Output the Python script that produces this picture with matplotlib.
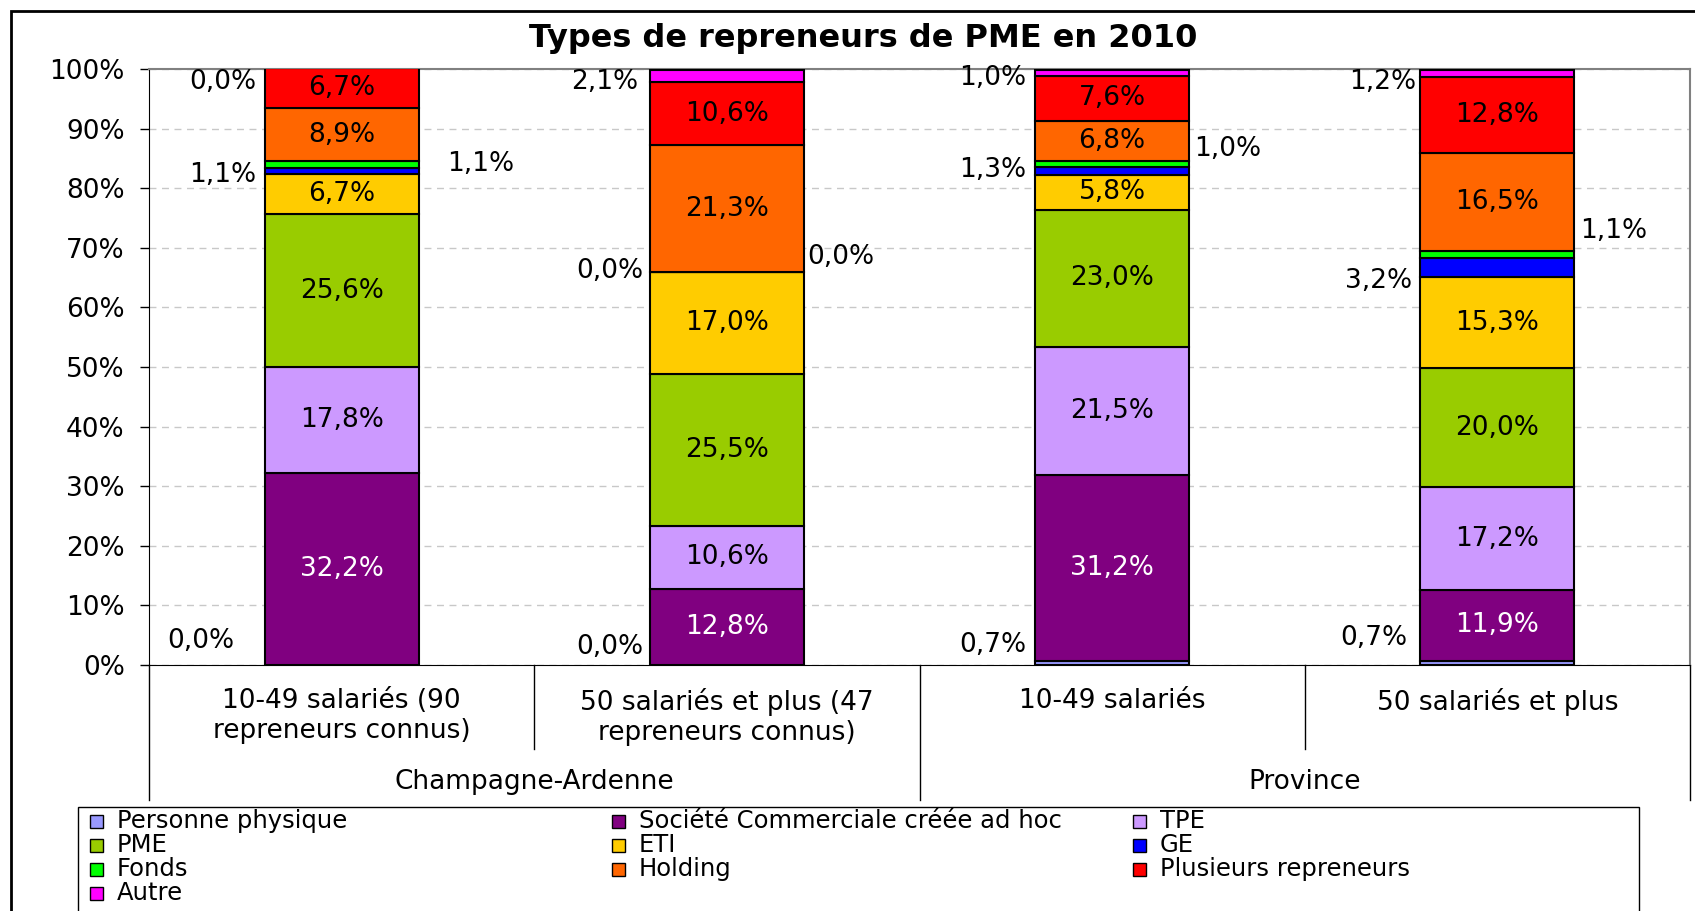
import numpy as np
import matplotlib.pyplot as plt
from matplotlib.patches import Rectangle

plt.rcParams['font.family'] = ['DejaVu Sans']

# ── Data ────────────────────────────────────────────────────────────────── #
CATEGORIES = ["10-49 salariés (90\nrepreneurs connus)",
              "50 salariés et plus (47\nrepreneurs connus)",
              "10-49 salariés",
              "50 salariés et plus"]
GROUPS = ["Champagne-Ardenne", "Province"]

SERIES = ["Personne physique", "Société Commerciale créée ad hoc", "TPE",
          "PME", "ETI", "GE", "Fonds", "Holding", "Plusieurs repreneurs", "Autre"]
COLORS = ["#9999FF", "#800080", "#CC99FF", "#99CC00", "#FFCC00",
          "#0000FF", "#00FF00", "#FF6600", "#FF0000", "#FF00FF"]

personne_physique = [0.0, 0.0, 0.7, 0.7]
societe_commerciale = [32.2, 12.8, 31.2, 11.9]
tpe = [17.8, 10.6, 21.5, 17.2]
pme = [25.6, 25.5, 23.0, 20.0]
eti = [6.7, 17.0, 5.8, 15.3]
ge = [1.1, 0.0, 1.3, 3.2]
fonds = [1.1, 0.0, 1.0, 1.1]
holding = [8.9, 21.3, 6.8, 16.5]
plusieurs = [6.7, 10.6, 7.6, 12.8]
autre = [0.0, 2.1, 1.0, 1.2]

VALUES = [personne_physique, societe_commerciale, tpe, pme, eti,
          ge, fonds, holding, plusieurs, autre]

# small segments get their label outside the bar: (series, category) -> (dx, y)
OUTSIDE = {
    (0, 0): (-0.278, 4.0), (9, 0): (-0.222, 97.8), (5, 0): (-0.222, 82.2), (6, 0): (0.275, 84.0),
    (0, 1): (-0.216, 3.1), (9, 1): (-0.230, 97.8), (5, 1): (-0.216, 66.1), (6, 1): (0.208, 68.4),
    (0, 2): (-0.222, 3.4), (9, 2): (-0.222, 98.5), (5, 2): (-0.222, 83.1), (6, 2): (0.213, 86.6),
    (0, 3): (-0.233, 4.5), (9, 3): (-0.210, 97.8), (5, 3): (-0.222, 64.4), (6, 3): (0.216, 72.8),
}

W, H = 1695, 911
FS = 19


def fmt(v):
    return f"{v:.1f}%".replace(".", ",")


fig = plt.figure(figsize=(W / 100, H / 100), dpi=100)
ax = fig.add_axes([149 / W, 1 - 665 / H, (1690 - 149) / W, (665 - 69) / H])

x = np.arange(len(CATEGORIES))
bottom = np.zeros(len(CATEGORIES))
for i, (name, vals, col) in enumerate(zip(SERIES, VALUES, COLORS)):
    vals = np.array(vals)
    ax.bar(x, vals, 0.40, bottom=bottom, color=col, edgecolor="black",
           linewidth=1.5, label=name, zorder=3)
    for j, v in enumerate(vals):
        if (i, j) in OUTSIDE:
            dx, y = OUTSIDE[(i, j)]
            ax.text(j + dx, y, fmt(v), ha="right" if dx < 0 else "left",
                    va="center", fontsize=FS, color="black")
        else:
            ax.text(j, bottom[j] + v / 2, fmt(v), ha="center", va="center",
                    fontsize=FS, color="white" if i == 1 else "black", zorder=4)
    bottom += vals

ax.set_xlim(-0.5, 3.5)
ax.set_ylim(0, 100)
ax.set_yticks(np.arange(0, 101, 10))
ax.set_yticklabels([f"{t}%" for t in range(0, 101, 10)], fontsize=FS)
ax.tick_params(axis="y", length=6.5, width=1, pad=11)
ax.set_xticks([])
ax.yaxis.grid(True, linestyle=(0, (5, 4)), color="#c8c8c8", linewidth=1)
ax.set_axisbelow(True)
for s in ["top", "right"]:
    ax.spines[s].set_color("#808080")
    ax.spines[s].set_linewidth(1.5)

# hierarchical category axis
tr = ax.get_xaxis_transform()
for xs, y1 in [(-0.5, -0.2265), (0.5, -0.141), (1.5, -0.2265), (2.5, -0.141), (3.5, -0.2265)]:
    ax.plot([xs, xs], [0, y1], color="black", lw=1, transform=tr, clip_on=False)
for j, lab in enumerate(CATEGORIES):
    ax.text(j, -0.038, lab, transform=tr, ha="center", va="top",
            fontsize=FS, linespacing=1.2)
for g, lab in enumerate(GROUPS):
    ax.text(0.5 + 2 * g, -0.196, lab, transform=tr, ha="center", va="center", fontsize=FS)

fig.text(863 / W, 1 - 39 / H, "Types de repreneurs de PME en 2010",
         ha="center", va="center", fontsize=23, fontweight="bold")

# outer frame and legend box
fig.add_artist(Rectangle((11 / W, -0.1), 2, 1 - 11 / H + 0.1, fill=False,
                         edgecolor="black", lw=2, transform=fig.transFigure))
fig.add_artist(Rectangle((78 / W, -0.1), (1639 - 78) / W, 1 - 807 / H + 0.1, fill=False,
                         edgecolor="black", lw=1, transform=fig.transFigure))

# legend, row-major in 3 columns
col_x = [90, 612, 1133]
row_y = [821, 845, 869, 893]
for k, (name, col) in enumerate(zip(SERIES, COLORS)):
    r, c = divmod(k, 3)
    px, py = col_x[c], row_y[r]
    fig.add_artist(Rectangle((px / W, 1 - (py + 7) / H), 13 / W, 13 / H,
                             facecolor=col, edgecolor="black", lw=1,
                             transform=fig.transFigure))
    fig.text((px + 27) / W, 1 - py / H, name, ha="left", va="center", fontsize=17.5)

fig.savefig("out.png", dpi=100)
